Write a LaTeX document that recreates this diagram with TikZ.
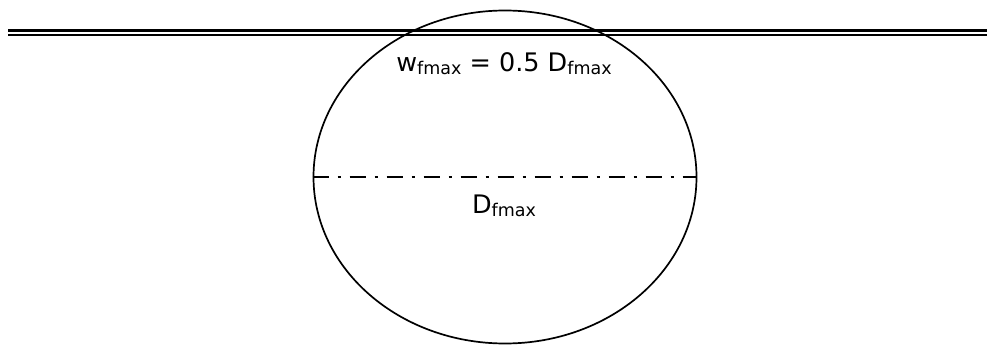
\documentclass[tikz,border=0pt]{standalone}
\usepackage{fontspec}
\setmainfont{DejaVu Sans}
\usetikzlibrary{shapes.geometric}
\newcommand{\subtxt}[1]{\raisebox{-0.12em}{\fontsize{17.5pt}{20pt}\selectfont #1}}
\begin{document}
\begin{tikzpicture}[x=1pt,y=-1pt,
  lbl/.style={font=\fontsize{25.5pt}{30pt}\selectfont, inner sep=0pt, anchor=base},
  rail/.style={line width=2.3pt}]
\useasboundingbox (0,0) rectangle (987,345);
\coordinate (r1a) at (8,30.5);
\coordinate (r1b) at (987,30.5);
\coordinate (r2a) at (8,35.3);
\coordinate (r2b) at (987,35.3);
\draw[rail] (r1a) -- (r1b);
\draw[rail] (r2a) -- (r2b);
\node[draw, ellipse, minimum width=383pt, minimum height=333pt, inner sep=0pt, line width=1.7pt] (ell) at (505,177) {};
\draw[line width=1.6pt, dash pattern=on 16pt off 9pt on 3pt off 9pt] (ell.west) -- (ell.east);
\node[lbl] (w) at (504,71) {w\subtxt{fmax} = 0.5 D\subtxt{fmax}};
\node[lbl] (d) at (504,213) {D\subtxt{fmax}};
\end{tikzpicture}
\end{document}
